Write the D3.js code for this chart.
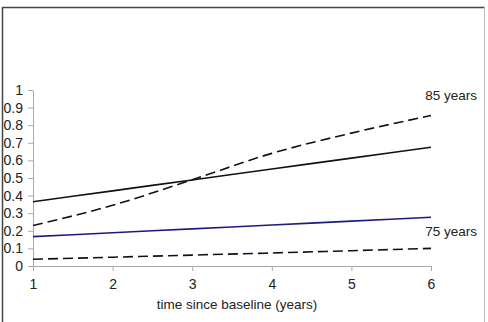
<!DOCTYPE html>
<html lang="en">
<head>
  <meta charset="UTF-8">
  <script src="https://d3js.org/d3.v7.min.js"></script>
  <title>Risk over time since baseline</title>
  <style>
    body { margin: 0; background: #fff; }
    text { font-family: "Liberation Sans", Arial, sans-serif; fill: #222; }
    .axis path, .axis line { stroke: #aaa; }
    .axis text { font-size: 14px; }
  </style>
</head>
<body>
<div id="chart"></div>
<script>
  // years since baseline
  const years = [1, 2, 3, 4, 5, 6];

  // series
  const solid85 = [0.365, 0.427, 0.489, 0.551, 0.613, 0.675];
  const dashed85 = [0.23, 0.345, 0.49, 0.64, 0.755, 0.855];
  const blue75 = [0.167, 0.189, 0.211, 0.233, 0.255, 0.277];
  const dashed75 = [0.038, 0.05, 0.062, 0.074, 0.087, 0.1];

  const yTicks = [0, 0.1, 0.2, 0.3, 0.4, 0.5, 0.6, 0.7, 0.8, 0.9, 1];
  const labels = [
    { text: "85 years", value: 0.943 },
    { text: "75 years", value: 0.17 }
  ];

  const width = 488, height = 322;
  const x = d3.scaleLinear().domain([1, 6]).range([33, 431]);
  const y = d3.scaleLinear().domain([0, 1]).range([266, 90]);

  const svg = d3.select("#chart").append("svg")
    .attr("width", width)
    .attr("height", height);

  // frame round the figure
  svg.append("line").attr("x1", 2.5).attr("x2", 485).attr("y1", 7.5).attr("y2", 7.5)
    .attr("stroke", "#444").attr("stroke-width", 1.5);
  svg.append("line").attr("x1", 2.5).attr("x2", 2.5).attr("y1", 7).attr("y2", height)
    .attr("stroke", "#444").attr("stroke-width", 1.5);
  svg.append("line").attr("x1", 484.5).attr("x2", 484.5).attr("y1", 7).attr("y2", height)
    .attr("stroke", "#bbb").attr("stroke-width", 1);

  svg.append("g")
    .attr("class", "axis")
    .attr("transform", "translate(0,266)")
    .call(d3.axisBottom(x).tickValues(years).tickFormat(d3.format("d")).tickSize(5).tickSizeOuter(0).tickPadding(8));

  svg.append("g")
    .attr("class", "axis")
    .attr("transform", "translate(33,0)")
    .call(d3.axisLeft(y).tickValues(yTicks).tickFormat(d => d === 0 || d === 1 ? d : d3.format(".1f")(d)).tickSize(5).tickSizeOuter(0).tickPadding(5));

  svg.selectAll(".axis text").attr("fill", "#222");

  svg.append("text")
    .attr("x", 237).attr("y", 309)
    .attr("text-anchor", "middle")
    .style("font-size", "13.5px")
    .text("time since baseline (years)");

  const line = d3.line()
    .x((d, i) => x(years[i]))
    .y(d => y(d))
    .curve(d3.curveMonotoneX);

  const series = [
    { values: solid85, color: "#111", dash: null },
    { values: dashed85, color: "#111", dash: "10,5" },
    { values: blue75, color: "#1c1c80", dash: null },
    { values: dashed75, color: "#111", dash: "10,5" }
  ];

  svg.append("g").selectAll("path")
    .data(series)
    .enter()
    .append("path")
    .attr("d", d => line(d.values))
    .attr("fill", "none")
    .attr("stroke", d => d.color)
    .attr("stroke-width", 1.6)
    .attr("stroke-dasharray", d => d.dash);

  svg.append("g").selectAll("text")
    .data(labels)
    .enter()
    .append("text")
    .attr("x", 477)
    .attr("y", d => y(d.value))
    .attr("text-anchor", "end")
    .style("font-size", "13.5px")
    .text(d => d.text);
</script>
</body>
</html>
